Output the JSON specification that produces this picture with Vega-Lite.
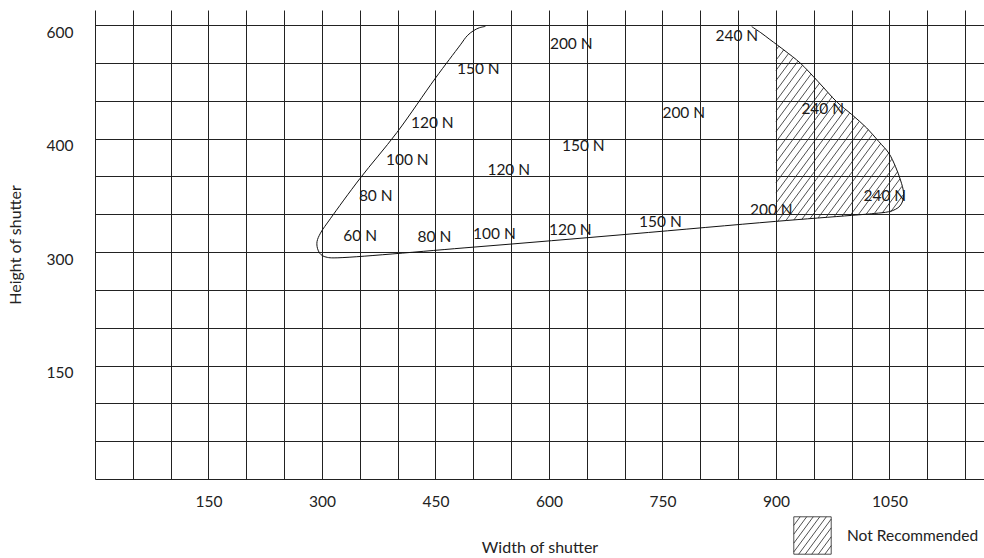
{
  "$schema": "https://vega.github.io/schema/vega-lite/v6.json",
  "width": 889,
  "height": 469,
  "autosize": {"type": "none"},
  "padding": {"left": 95, "top": 10, "right": 0, "bottom": 79},
  "config": {"view": {"stroke": null}, "font": "Lato"},
  "datasets": {
    "hatch": [
      {"x": 900, "y": 567, "x2": 903.8, "y2": 572.1},
      {"x": 900, "y": 553.5, "x2": 910.3, "y2": 567.3},
      {"x": 900, "y": 540, "x2": 916.6, "y2": 562.3},
      {"x": 900, "y": 526.5, "x2": 922.8, "y2": 557.3},
      {"x": 900, "y": 513, "x2": 929.1, "y2": 552.3},
      {"x": 900, "y": 499.5, "x2": 935, "y2": 546.8},
      {"x": 900, "y": 486, "x2": 940.7, "y2": 540.9},
      {"x": 900, "y": 472.5, "x2": 946.3, "y2": 535.1},
      {"x": 900, "y": 459, "x2": 952, "y2": 529.2},
      {"x": 900, "y": 445.5, "x2": 957.6, "y2": 523.3},
      {"x": 900, "y": 432, "x2": 963.2, "y2": 517.3},
      {"x": 900, "y": 418.5, "x2": 968.7, "y2": 511.3},
      {"x": 900, "y": 405, "x2": 974.3, "y2": 505.3},
      {"x": 900, "y": 391.5, "x2": 979.8, "y2": 499.3},
      {"x": 900, "y": 378, "x2": 985.9, "y2": 493.9},
      {"x": 900, "y": 364.5, "x2": 992, "y2": 488.7},
      {"x": 900, "y": 351, "x2": 997.2, "y2": 483.6},
      {"x": 902.4, "y": 340.8, "x2": 1004.2, "y2": 478.2},
      {"x": 913.1, "y": 341.7, "x2": 1010.2, "y2": 472.8},
      {"x": 923.7, "y": 342.5, "x2": 1016.2, "y2": 467.4},
      {"x": 934.3, "y": 343.3, "x2": 1022, "y2": 461.7},
      {"x": 944.9, "y": 344.1, "x2": 1027.5, "y2": 455.6},
      {"x": 955.6, "y": 345, "x2": 1032.9, "y2": 449.4},
      {"x": 966.2, "y": 345.9, "x2": 1038.4, "y2": 443.3},
      {"x": 976.9, "y": 346.8, "x2": 1043.8, "y2": 437},
      {"x": 987.5, "y": 347.6, "x2": 1049.1, "y2": 430.8},
      {"x": 998.1, "y": 348.4, "x2": 1053.1, "y2": 422.7},
      {"x": 1008.7, "y": 349.2, "x2": 1057.2, "y2": 414.7},
      {"x": 1019.4, "y": 350.2, "x2": 1060.6, "y2": 405.9},
      {"x": 1030, "y": 351, "x2": 1064, "y2": 396.8},
      {"x": 1040.6, "y": 351.8, "x2": 1066.7, "y2": 387.1},
      {"x": 1051.3, "y": 352.7, "x2": 1068.3, "y2": 375.7}
    ],
    "curve": [
      {"order": 1, "x": 516, "y": 598.3},
      {"order": 2, "x": 508, "y": 596.5},
      {"order": 3, "x": 500, "y": 592.5},
      {"order": 4, "x": 492, "y": 586},
      {"order": 5, "x": 483, "y": 574},
      {"order": 6, "x": 450, "y": 530},
      {"order": 7, "x": 399, "y": 458},
      {"order": 8, "x": 350, "y": 397},
      {"order": 9, "x": 311, "y": 344},
      {"order": 10, "x": 298, "y": 325},
      {"order": 11, "x": 293.5, "y": 314},
      {"order": 12, "x": 294, "y": 305},
      {"order": 13, "x": 297, "y": 298.5},
      {"order": 14, "x": 301, "y": 295},
      {"order": 15, "x": 307, "y": 293},
      {"order": 16, "x": 316, "y": 292.3},
      {"order": 17, "x": 500, "y": 306.5},
      {"order": 18, "x": 707, "y": 323.8},
      {"order": 19, "x": 899, "y": 340.5},
      {"order": 20, "x": 1000, "y": 348.5},
      {"order": 21, "x": 1030, "y": 351},
      {"order": 22, "x": 1049, "y": 353.3},
      {"order": 23, "x": 1058, "y": 356.5},
      {"order": 24, "x": 1064, "y": 361},
      {"order": 25, "x": 1068, "y": 369},
      {"order": 26, "x": 1068.5, "y": 380},
      {"order": 27, "x": 1065, "y": 394},
      {"order": 28, "x": 1058, "y": 413},
      {"order": 29, "x": 1049, "y": 431},
      {"order": 30, "x": 1036, "y": 446},
      {"order": 31, "x": 1020, "y": 464},
      {"order": 32, "x": 1000, "y": 482},
      {"order": 33, "x": 981, "y": 498},
      {"order": 34, "x": 956, "y": 525},
      {"order": 35, "x": 932, "y": 550},
      {"order": 36, "x": 912, "y": 566},
      {"order": 37, "x": 892, "y": 581},
      {"order": 38, "x": 880, "y": 590},
      {"order": 39, "x": 868, "y": 598}
    ],
    "labels": [
      {"label": "200 N", "x": 629.5, "y": 575},
      {"label": "240 N", "x": 848.3, "y": 585.9},
      {"label": "150 N", "x": 506.6, "y": 541.9},
      {"label": "240 N", "x": 961.9, "y": 489},
      {"label": "200 N", "x": 778.2, "y": 483.7},
      {"label": "120 N", "x": 445.8, "y": 470.5},
      {"label": "150 N", "x": 645.4, "y": 440.5},
      {"label": "100 N", "x": 412.8, "y": 422},
      {"label": "120 N", "x": 546.9, "y": 407.9},
      {"label": "80 N", "x": 371.1, "y": 374.4},
      {"label": "240 N", "x": 1043.9, "y": 374},
      {"label": "200 N", "x": 893.9, "y": 355.3},
      {"label": "150 N", "x": 747.2, "y": 339.7},
      {"label": "120 N", "x": 628.2, "y": 329.5},
      {"label": "100 N", "x": 527.8, "y": 324.2},
      {"label": "80 N", "x": 448.5, "y": 319.9},
      {"label": "60 N", "x": 350.6, "y": 320.6}
    ]
  },
  "encoding": {
    "x": {
      "field": "x",
      "type": "quantitative",
      "scale": {"domain": [0, 1175], "nice": false, "zero": false},
      "axis": {
        "title": "Width of shutter",
        "values": [0, 50, 100, 150, 200, 250, 300, 350, 400, 450, 500, 550, 600, 650, 700, 750, 800, 850, 900, 950, 1000, 1050, 1100, 1150],
        "format": "d",
        "labelExpr": "datum.value % 150 == 0 && datum.value > 0 && datum.value <= 1050 ? datum.label : ''",
        "grid": true,
        "gridColor": "#222",
        "gridOpacity": 1,
        "gridWidth": 1,
        "ticks": false,
        "domain": false,
        "labelOverlap": false,
        "labelFlush": false,
        "labelFont": "Lato",
        "labelFontSize": 15.5,
        "labelColor": "#222",
        "labelPadding": 22,
        "labelBaseline": "middle",
        "titleFont": "Lato",
        "titleFontSize": 16,
        "titleFontWeight": "normal",
        "titleColor": "#222",
        "titleX": 444.5,
        "titleY": 68,
        "titleBaseline": "middle"
      }
    },
    "y": {
      "field": "y",
      "type": "quantitative",
      "scale": {"domain": [0, 620], "nice": false, "zero": false},
      "axis": {
        "title": "Height of shutter",
        "values": [0, 50, 100, 150, 200, 250, 300, 350, 400, 450, 500, 550, 600],
        "format": "d",
        "labelExpr": "datum.value == 450 ? '400' : (datum.value % 150 == 0 && datum.value > 0 ? datum.label : '')",
        "grid": true,
        "gridColor": "#222",
        "gridOpacity": 1,
        "gridWidth": 1,
        "ticks": false,
        "domain": false,
        "labelOverlap": false,
        "labelFlush": false,
        "labelFont": "Lato",
        "labelFontSize": 15.5,
        "labelColor": "#222",
        "labelPadding": 22,
        "labelOffset": 7,
        "titleFont": "Lato",
        "titleFontSize": 16,
        "titleFontWeight": "normal",
        "titleColor": "#222",
        "titleX": -80,
        "titleY": 234.5,
        "titleAngle": -90,
        "titleAlign": "center",
        "titleBaseline": "middle"
      }
    }
  },
  "layer": [
    {
      "data": {"name": "hatch"},
      "mark": {"type": "rule", "strokeWidth": 0.8},
      "encoding": {
        "x2": {"field": "x2"},
        "y2": {"field": "y2"},
        "stroke": {
          "datum": "Not Recommended",
          "type": "nominal",
          "scale": {"range": ["#222"]},
          "legend": {
            "title": null,
            "orient": "none",
            "legendX": 698,
            "legendY": 506,
            "padding": 0,
            "symbolType": "M-1,-1H1V1H-1Z M-1,-0.54L-0.66,-1 M-1,-0.07L-0.31,-1 M-1,0.41L0.04,-1 M-1,0.88L0.39,-1 M-0.74,1L0.74,-1 M-0.39,1L1,-0.88 M-0.04,1L1,-0.41 M0.31,1L1,0.07 M0.66,1L1,0.54",
            "symbolSize": 1400,
            "symbolStrokeWidth": 0.8,
            "symbolFillColor": "transparent",
            "labelFont": "Lato",
            "labelFontSize": 15.5,
            "labelColor": "#222",
            "labelOffset": 15
          }
        }
      }
    },
    {
      "data": {"name": "curve"},
      "mark": {"type": "line", "interpolate": "catmull-rom", "stroke": "#111", "strokeWidth": 1},
      "encoding": {
        "order": {"field": "order", "type": "quantitative"}
      }
    },
    {
      "data": {"name": "labels"},
      "mark": {"type": "text", "fontSize": 15.5, "color": "#1a1a1a", "align": "center", "baseline": "middle"},
      "encoding": {
        "text": {"field": "label"}
      }
    }
  ]
}
